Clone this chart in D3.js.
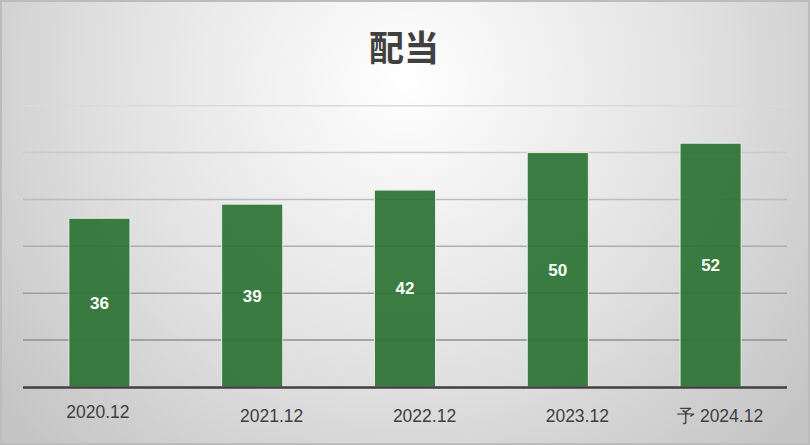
<!DOCTYPE html>
<html>
<head>
<meta charset="utf-8">
<script src="https://cdn.jsdelivr.net/npm/d3@7"></script>
<style>
    body { margin: 0; }
    svg { display: block; }
</style>
</head>
<body>
<div id="chart"></div>
<script>
let title = '配当';
let categories = ['2020.12', '2021.12', '2022.12', '2023.12', '予 2024.12'];
let dividends = [36, 39, 42, 50, 52];
let gridTicks = [10, 20, 30, 40, 50, 60];

let width = 810, height = 445;
let plotLeft = 23, plotRight = 787, plotTop = 105.7, plotBottom = 387;

let svg = d3.select('#chart').append('svg')
    .attr('width', width)
    .attr('height', height);

let defs = svg.append('defs');
let bg = defs.append('radialGradient')
    .attr('id', 'bg')
    .attr('gradientUnits', 'userSpaceOnUse')
    .attr('cx', 405).attr('cy', 80).attr('r', 520);
bg.append('stop').attr('offset', '0').attr('stop-color', '#ffffff');
bg.append('stop').attr('offset', '0.55').attr('stop-color', '#e2e2e2');
bg.append('stop').attr('offset', '1').attr('stop-color', '#c4c4c4');

let gridGrad = defs.append('linearGradient')
    .attr('id', 'gridGrad')
    .attr('gradientUnits', 'userSpaceOnUse')
    .attr('x1', 0).attr('x2', 0).attr('y1', plotTop).attr('y2', 345);
gridGrad.append('stop').attr('offset', '0').attr('stop-color', '#dadada');
gridGrad.append('stop').attr('offset', '1').attr('stop-color', '#8e8e8e');

svg.append('rect')
    .attr('x', 1).attr('y', 1)
    .attr('width', width - 2).attr('height', height - 2)
    .attr('fill', 'url(#bg)')
    .attr('stroke', '#bcbcbc')
    .attr('stroke-width', 2);

svg.append('text')
    .attr('x', 404)
    .attr('y', 61)
    .attr('text-anchor', 'middle')
    .attr('font-family', '"Noto Sans CJK JP", sans-serif')
    .attr('font-weight', 'bold')
    .attr('font-size', 35)
    .attr('fill', '#404040')
    .text(title);

let x = d3.scaleBand()
    .domain(categories)
    .range([plotLeft, plotRight])
    .paddingInner(0.6)
    .paddingOuter(0.3);

let y = d3.scaleLinear()
    .domain([0, 60])
    .range([plotBottom, plotTop]);

// gridlines
svg.append('g')
    .selectAll('line')
    .data(gridTicks)
    .enter().append('line')
    .attr('x1', plotLeft)
    .attr('x2', plotRight)
    .attr('y1', d => y(d))
    .attr('y2', d => y(d))
    .attr('stroke', 'url(#gridGrad)')
    .attr('stroke-width', 1.5);

// bars
svg.append('g')
    .selectAll('rect')
    .data(dividends)
    .enter().append('rect')
    .attr('x', (d, i) => x(categories[i]))
    .attr('y', d => y(d))
    .attr('width', x.bandwidth())
    .attr('height', d => y(0) - y(d))
    .attr('fill', '#2a7233')
    .attr('fill-opacity', 0.92)
    .attr('stroke', '#e4efe4')
    .attr('stroke-width', 1);

// value labels
svg.append('g')
    .selectAll('text')
    .data(dividends)
    .enter().append('text')
    .attr('x', (d, i) => x(categories[i]) + x.bandwidth() / 2)
    .attr('y', d => (y(d) + y(0)) / 2)
    .attr('dy', '0.35em')
    .attr('text-anchor', 'middle')
    .attr('font-family', '"Liberation Sans", Arial, sans-serif')
    .attr('font-weight', 'bold')
    .attr('font-size', 17)
    .attr('fill', '#ffffff')
    .text(d => d);

// baseline
svg.append('line')
    .attr('x1', plotLeft)
    .attr('x2', plotRight)
    .attr('y1', y(0) + 0.5)
    .attr('y2', y(0) + 0.5)
    .attr('stroke', '#404040')
    .attr('stroke-width', 2.5);

// category axis
let axis = svg.append('g')
    .attr('transform', `translate(0, ${plotBottom})`)
    .call(d3.axisBottom(x).tickSize(0).tickPadding(0));
axis.select('.domain').remove();
axis.selectAll('text')
    .attr('font-family', '"Liberation Sans", Arial, sans-serif')
    .attr('font-size', 17.5)
    .attr('fill', '#404040')
    .attr('dy', null)
    .attr('y', (d, i) => i === 0 ? 30.5 : 35)
    .attr('dx', (d, i) => i === 0 ? -1.5 : (i === categories.length - 1 ? 9.5 : 19.5));
</script>
</body>
</html>
